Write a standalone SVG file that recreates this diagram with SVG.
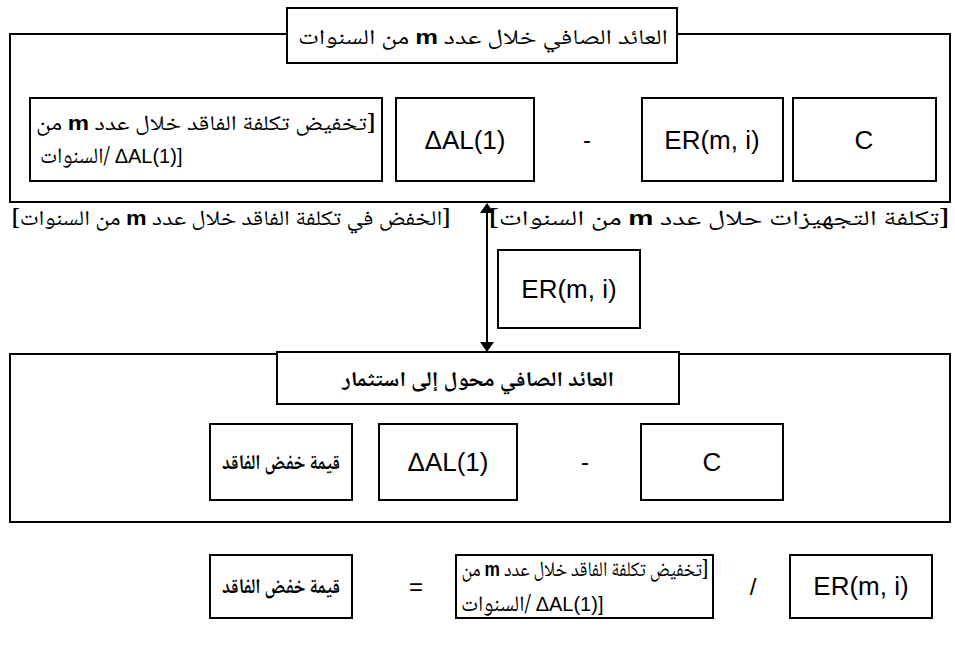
<svg xmlns="http://www.w3.org/2000/svg" width="955" height="646" viewBox="0 0 955 646">
  <defs>
    <marker id="arrowHead" viewBox="0 0 10 14" refX="9" refY="7" markerWidth="10" markerHeight="14" markerUnits="userSpaceOnUse" orient="auto-start-reverse">
      <path d="M0,0 L10,7 L0,14 Z" fill="#000"/>
    </marker>
    <style>
      .frame { fill: none; stroke: #000; stroke-width: 2; }
      .box { fill: #fff; stroke: #000; stroke-width: 2; }
      .ar { font-family: "Noto Naskh Arabic", "DejaVu Sans", sans-serif; font-size: 21px; fill: #000; direction: rtl; unicode-bidi: embed; }
      .arl { font-family: "Noto Naskh Arabic", "DejaVu Sans", sans-serif; font-size: 22px; fill: #000; }
      .b { font-weight: bold; }
      .lat { font-family: "Liberation Sans", Arial, sans-serif; font-size: 26px; fill: #000; }
      .latS { font-family: "Liberation Sans", Arial, sans-serif; font-size: 20px; }
      .op { font-family: "Liberation Sans", Arial, sans-serif; font-size: 24px; fill: #000; }
      .mm { font-family: "Liberation Sans", Arial, sans-serif; font-weight: bold; font-size: 20px; }
    </style>
  </defs>

  <!-- upper frame: net return over m years -->
  <g id="returnFrame">
    <rect class="frame" x="10" y="34" width="940" height="168"/>
  </g>
  <g id="returnTitle">
    <rect class="box" x="287" y="8" width="390" height="55"/>
    <text class="ar" x="483" y="44" text-anchor="middle" textLength="370" lengthAdjust="spacingAndGlyphs">العائد الصافي خلال عدد <tspan class="mm">m</tspan> من السنوات</text>
  </g>
  <g id="lossReductionTop">
    <rect class="box" x="30" y="98" width="352" height="83"/>
    <text class="ar" x="206" y="130" text-anchor="middle" textLength="340" lengthAdjust="spacingAndGlyphs">[تخفيض تكلفة الفاقد خلال عدد <tspan class="mm">m</tspan> من</text>
    <text class="arl" x="40" y="163">السنوات/ <tspan class="latS">ΔAL(1)]</tspan></text>
  </g>
  <g id="deltaALTop">
    <rect class="box" x="396" y="98" width="138" height="83"/>
    <text class="lat" x="465" y="149" text-anchor="middle">ΔAL(1)</text>
  </g>
  <text class="op" x="587" y="148" text-anchor="middle">-</text>
  <g id="erTop">
    <rect class="box" x="642" y="98" width="141" height="83"/>
    <text class="lat" x="712" y="149" text-anchor="middle">ER(m, i)</text>
  </g>
  <g id="costTop">
    <rect class="box" x="793" y="98" width="143" height="83"/>
    <text class="lat" x="864" y="149" text-anchor="middle">C</text>
  </g>

  <!-- captions under the upper frame -->
  <text id="captionLoss" class="ar" x="231" y="225" text-anchor="middle" textLength="440" lengthAdjust="spacingAndGlyphs">[الخفض في تكلفة الفاقد خلال عدد <tspan class="mm">m</tspan> من السنوات]</text>
  <text id="captionCost" class="ar" x="719" y="225" text-anchor="middle" textLength="462" lengthAdjust="spacingAndGlyphs">[تكلفة التجهيزات حلال عدد <tspan class="mm">m</tspan> من السنوات]</text>

  <g id="erMiddle">
    <rect class="box" x="498" y="250" width="142" height="78"/>
    <text class="lat" x="569" y="298" text-anchor="middle">ER(m, i)</text>
  </g>

  <!-- lower frame: net return converted to investment -->
  <g id="investFrame">
    <rect class="frame" x="10" y="354" width="940" height="168"/>
  </g>
  <g id="investTitle">
    <rect class="box" x="277" y="352" width="402" height="52"/>
    <text class="ar b" x="478" y="386" text-anchor="middle" textLength="272" lengthAdjust="spacingAndGlyphs">العائد الصافي محول إلى استثمار</text>
  </g>
  <g id="lossValueLow">
    <rect class="box" x="210" y="424" width="142" height="76"/>
    <text class="ar b" x="281" y="469" text-anchor="middle" textLength="118" lengthAdjust="spacingAndGlyphs">قيمة خفض الفاقد</text>
  </g>
  <g id="deltaALLow">
    <rect class="box" x="379" y="424" width="138" height="76"/>
    <text class="lat" x="448" y="471" text-anchor="middle">ΔAL(1)</text>
  </g>
  <text class="op" x="585" y="470" text-anchor="middle">-</text>
  <g id="costLow">
    <rect class="box" x="641" y="424" width="142" height="76"/>
    <text class="lat" x="712" y="471" text-anchor="middle">C</text>
  </g>

  <!-- equation row -->
  <g id="lossValueEq">
    <rect class="box" x="210" y="555" width="142" height="63"/>
    <text class="ar b" x="281" y="593" text-anchor="middle" textLength="118" lengthAdjust="spacingAndGlyphs">قيمة خفض الفاقد</text>
  </g>
  <text class="op" x="416" y="595" text-anchor="middle">=</text>
  <g id="lossReductionEq">
    <rect class="box" x="456" y="555" width="257" height="63"/>
    <text class="ar" x="585" y="576" text-anchor="middle" font-size="17" textLength="247" lengthAdjust="spacingAndGlyphs">[تخفيض تكلفة الفاقد خلال عدد <tspan class="mm" font-size="16">m</tspan> من</text>
    <text class="arl" x="461" y="611" font-size="18">السنوات/ <tspan class="latS" font-size="17">ΔAL(1)]</tspan></text>
  </g>
  <text class="op" x="753" y="595" text-anchor="middle">/</text>
  <g id="erEq">
    <rect class="box" x="790" y="555" width="142" height="63"/>
    <text class="lat" x="861" y="595" text-anchor="middle">ER(m, i)</text>
  </g>

  <!-- connector between the two frames -->
  <g id="connectors">
    <line x1="487" y1="204" x2="487" y2="351" stroke="#000" stroke-width="2" marker-start="url(#arrowHead)" marker-end="url(#arrowHead)"/>
  </g>
</svg>
